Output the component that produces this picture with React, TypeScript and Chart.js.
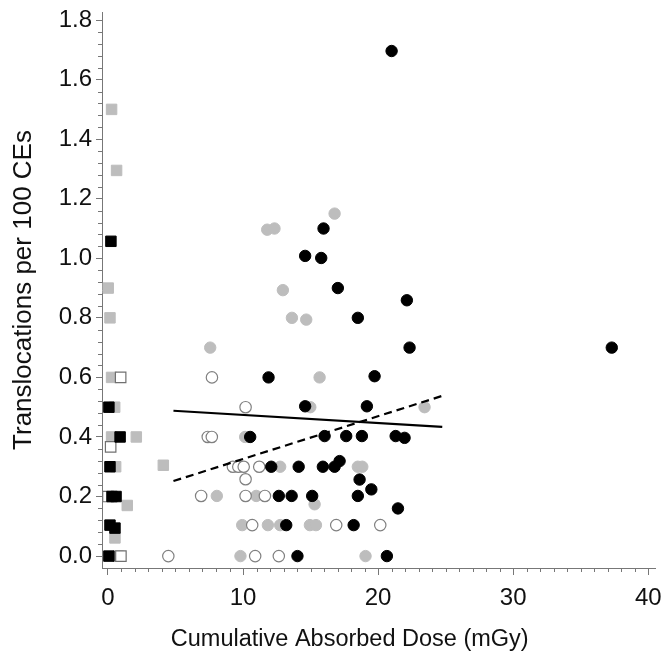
import React, { useEffect, useRef } from 'react';
import { Chart, registerables } from 'chart.js';

Chart.register(...registerables);

// ---- Data ----
// Filled gray squares [dose mGy, translocations per 100 CEs]
const graySquares: [number, number][] = [
  [0.27, 1.5], [0.64, 1.295], [0.02, 0.9], [0.15, 0.8], [0.27, 0.6], [0.5, 0.5],
  [0.27, 0.4], [2.1, 0.4], [0.57, 0.3], [4.1, 0.305], [1.43, 0.17], [0.52, 0.061], [0.76, 0.0],
];
// Filled black squares
const blackSquares: [number, number][] = [
  [0.22, 1.057], [0.07, 0.5], [0.9, 0.4], [0.15, 0.3], [0.3, 0.2], [0.6, 0.2],
  [0.15, 0.104], [0.52, 0.094], [0.07, 0.0],
];
// Open squares
const openSquares: [number, number][] = [
  [0.94, 0.6], [0.2, 0.367], [0.96, 0.0], [0.0, 0.2],
];
// Filled gray circles
const grayCircles: [number, number][] = [
  [16.78, 1.15], [11.79, 1.096], [12.33, 1.1], [12.95, 0.893], [13.62, 0.8], [14.68, 0.794],
  [7.57, 0.7], [15.67, 0.6], [14.98, 0.5], [23.44, 0.5], [10.16, 0.4], [12.75, 0.3],
  [18.5, 0.3], [18.83, 0.3], [8.06, 0.202], [10.98, 0.202], [15.3, 0.174], [9.94, 0.104],
  [11.84, 0.104], [12.75, 0.104], [14.95, 0.104], [15.4, 0.104], [9.81, 0.0], [19.07, 0.0],
];
// Filled black circles
const blackCircles: [number, number][] = [
  [21.0, 1.696], [15.96, 1.1], [14.6, 1.008], [15.79, 1.001], [17.02, 0.9], [22.13, 0.859],
  [18.5, 0.8], [22.33, 0.7], [37.3, 0.7], [11.89, 0.6], [19.74, 0.604], [14.6, 0.503],
  [19.17, 0.503], [10.53, 0.4], [16.04, 0.403], [17.64, 0.403], [18.8, 0.403], [21.3, 0.403],
  [21.96, 0.397], [12.09, 0.3], [14.12, 0.3], [15.91, 0.3], [16.78, 0.3], [17.15, 0.319],
  [18.63, 0.257], [19.5, 0.224], [12.65, 0.202], [13.6, 0.202], [15.12, 0.202], [18.5, 0.202],
  [21.47, 0.16], [13.2, 0.104], [18.19, 0.104], [14.03, 0.0], [20.65, 0.0],
];
// Open circles
const openCircles: [number, number][] = [
  [4.47, 0.0], [7.7, 0.6], [10.19, 0.5], [7.39, 0.4], [7.69, 0.4], [9.25, 0.3], [9.65, 0.3],
  [10.05, 0.3], [11.2, 0.3], [10.19, 0.258], [6.9, 0.202], [10.19, 0.202], [11.62, 0.202],
  [10.68, 0.104], [16.9, 0.104], [20.16, 0.104], [10.9, 0.0], [12.65, 0.0],
];
// Fitted lines (end points)
const solidFit: [number, number][] = [[4.85, 0.488], [24.75, 0.434]];
const dashedFit: [number, number][] = [[4.85, 0.252], [24.75, 0.538]];

// Axes
const xTickValues = [0, 10, 20, 30, 40];
const xTickLabels = ['0', '10', '20', '30', '40'];
const yTickValues = [0, 0.2, 0.4, 0.6, 0.8, 1.0, 1.2, 1.4, 1.6, 1.8];
const yTickLabels = ['0.0', '0.2', '0.4', '0.6', '0.8', '1.0', '1.2', '1.4', '1.6', '1.8'];
const xTitle = 'Cumulative Absorbed Dose (mGy)';
const yTitle = 'Translocations per 100 CEs';

const FONT = "'Liberation Sans', Arial, sans-serif";
const AXIS = '#777777';
const GRAY = '#bdbdbd';

const pts = (a: [number, number][]) => a.map(([x, y]) => ({ x, y }));

const minorTicks = {
  id: 'minorTicks',
  afterDraw(chart: any) {
    const { ctx } = chart;
    const xs = chart.scales.x;
    const ys = chart.scales.y;
    ctx.save();
    ctx.strokeStyle = AXIS;
    ctx.lineWidth = 1;
    ctx.beginPath();
    for (let i = 0; i <= 40; i++) {
      if (i % 10 === 0) continue;
      const px = Math.round(xs.getPixelForValue(i)) + 0.5;
      ctx.moveTo(px, xs.top);
      ctx.lineTo(px, xs.top + 4);
    }
    for (let i = 0; i <= 45; i++) {
      if (i % 5 === 0) continue;
      const py = Math.round(ys.getPixelForValue(i * 0.04)) + 0.5;
      ctx.moveTo(ys.right, py);
      ctx.lineTo(ys.right - 4, py);
    }
    ctx.stroke();
    // x-axis title, centred a little left of the axis middle as in the reference
    const area = chart.chartArea;
    ctx.fillStyle = '#111';
    ctx.font = `23.5px ${FONT}`;
    ctx.textAlign = 'center';
    ctx.textBaseline = 'middle';
    ctx.fillText(xTitle, area.left + (area.right - area.left) * 0.448, 640);
    ctx.restore();
  },
};

export default function App() {
  const ref = useRef<HTMLCanvasElement | null>(null);
  useEffect(() => {
    document.body.style.margin = '0';
    if (!ref.current) return;
    const circle = (data: [number, number][], fill: string, border: string, bw: number) => ({
      type: 'scatter' as const,
      data: pts(data),
      pointStyle: 'circle',
      pointRadius: 5.7,
      pointBackgroundColor: fill,
      pointBorderColor: border,
      pointBorderWidth: bw,
      pointHoverRadius: 5.7,
    });
    const square = (data: [number, number][], fill: string, border: string, bw: number) => ({
      type: 'scatter' as const,
      data: pts(data),
      pointStyle: 'rect',
      pointRadius: 7.4,
      pointBackgroundColor: fill,
      pointBorderColor: border,
      pointBorderWidth: bw,
      pointHoverRadius: 7.4,
    });
    const chart = new Chart(ref.current, {
      type: 'scatter',
      data: {
        datasets: [
          {
            type: 'line',
            data: pts(solidFit),
            borderColor: '#000',
            borderWidth: 2.2,
            pointRadius: 0,
            showLine: true,
            fill: false,
          } as any,
          {
            type: 'line',
            data: pts(dashedFit),
            borderColor: '#000',
            borderWidth: 2.2,
            borderDash: [8, 5],
            pointRadius: 0,
            showLine: true,
            fill: false,
          } as any,
          circle(blackCircles, '#000', '#000', 1),
          circle(openCircles, '#ffffff', '#808080', 1.2),
          circle(grayCircles, GRAY, GRAY, 1),
          square(blackSquares, '#000', '#000', 1),
          square(openSquares, '#ffffff', '#707070', 1.2),
          square(graySquares, GRAY, GRAY, 1),
        ],
      },
      options: {
        animation: false,
        responsive: false,
        layout: { padding: { top: 12, right: 12, left: 0, bottom: 0 } },
        plugins: { legend: { display: false }, tooltip: { enabled: false } },
        scales: {
          x: {
            type: 'linear',
            min: -0.44,
            max: 40.5,
            afterFit: (s: any) => { s.height = 90; s.paddingLeft = 0; s.paddingRight = 0; },
            afterBuildTicks: (s: any) => { s.ticks = xTickValues.map((v) => ({ value: v })); },
            ticks: {
              callback: (v: any) => xTickLabels[xTickValues.indexOf(Number(v))] ?? '',
              font: { family: FONT, size: 24 },
              color: '#111',
              padding: 9,
              maxRotation: 0,
              autoSkip: false,
            },
            grid: { drawOnChartArea: false, drawTicks: true, tickLength: 7, color: AXIS },
            border: { color: AXIS, width: 1 },
            title: { display: false, text: xTitle },
          },
          y: {
            type: 'linear',
            min: -0.04,
            max: 1.827,
            afterFit: (s: any) => { s.width = 102; s.paddingTop = 0; s.paddingBottom = 0; },
            afterBuildTicks: (s: any) => { s.ticks = yTickValues.map((v) => ({ value: v })); },
            ticks: {
              callback: (v: any) => {
                const i = yTickValues.findIndex((t) => Math.abs(t - Number(v)) < 1e-6);
                return i >= 0 ? yTickLabels[i] : '';
              },
              font: { family: FONT, size: 24 },
              color: '#111',
              padding: 4,
              autoSkip: false,
            },
            grid: { drawOnChartArea: false, drawTicks: true, tickLength: 6, color: AXIS },
            border: { color: AXIS, width: 1 },
            title: {
              display: true,
              text: yTitle,
              font: { family: FONT, size: 26 },
              color: '#111',
              padding: { top: 8, bottom: 0 },
            },
          },
        },
      },
      plugins: [minorTicks],
    } as any);
    return () => chart.destroy();
  }, []);
  return (
    <div style={{ width: 667, height: 658 }}>
      <canvas ref={ref} width={667} height={658} style={{ display: 'block' }} />
    </div>
  );
}
